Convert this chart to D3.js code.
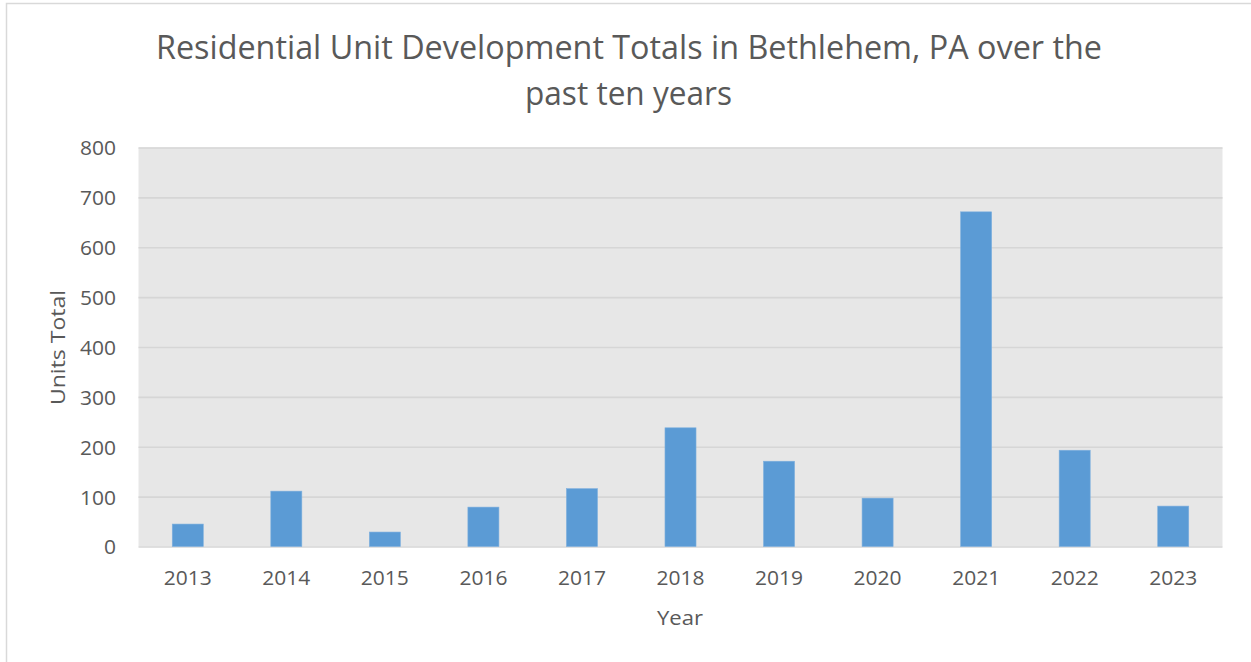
<!DOCTYPE html>
<html>
<head>
<meta charset="utf-8">
<script src="https://cdn.jsdelivr.net/npm/d3@7"></script>
<style>
  html, body { margin: 0; padding: 0; background: #fff; }
  svg { display: block; }
  text { font-family: "Open Sans", "Liberation Sans", sans-serif; fill: #595959; }
</style>
</head>
<body>
<svg id="chart" width="1251" height="662"></svg>
<script>
const years = ["2013","2014","2015","2016","2017","2018","2019","2020","2021","2022","2023"];
const units = [45, 111, 29, 79, 116, 238, 171, 97, 671, 193, 81];
const yTicks = [0, 100, 200, 300, 400, 500, 600, 700, 800];
const titleLines = ["Residential Unit Development Totals in Bethlehem, PA over the", "past ten years"];
const xTitle = "Year";
const yTitle = "Units Total";

const svg = d3.select("#chart");
const W = 1251, H = 662;
const plot = { left: 138.5, right: 1222.5, top: 147.5, bottom: 546.5 };
const tickFont = 20.5;
const titleFont = 33.5;

// squeeze text horizontally to match a narrow (Calibri-like) face
function fitWidth(sel, perChar) {
  sel.each(function () {
    const n = this.textContent.length;
    d3.select(this).attr("textLength", perChar * n).attr("lengthAdjust", "spacingAndGlyphs");
  });
}

// chart border (cropped on right/bottom)
svg.append("rect")
  .attr("x", 6.5).attr("y", 3.5)
  .attr("width", W + 20).attr("height", H + 20)
  .attr("fill", "#fff").attr("stroke", "#d9d9d9").attr("stroke-width", 1.5);

const x = d3.scaleBand().domain(years)
  .range([plot.left, plot.right])
  .paddingInner(0.685).paddingOuter(0.3425);
const y = d3.scaleLinear().domain([0, 800]).range([plot.bottom, plot.top]);

// plot background
svg.append("rect")
  .attr("x", plot.left).attr("y", plot.top)
  .attr("width", plot.right - plot.left).attr("height", plot.bottom - plot.top)
  .attr("fill", "#e7e7e7");

// gridlines
const yAxisGrid = d3.axisLeft(y).tickValues(yTicks).tickSize(-(plot.right - plot.left)).tickFormat("");
const gGrid = svg.append("g").attr("transform", `translate(${plot.left},0)`).call(yAxisGrid);
gGrid.select(".domain").remove();
gGrid.selectAll("line").attr("stroke", "#d6d6d6").attr("stroke-width", 1.6);

// bars
svg.append("g").selectAll("rect").data(years).join("rect")
  .attr("x", d => x(d))
  .attr("width", x.bandwidth())
  .attr("y", (d, i) => y(units[i]))
  .attr("height", (d, i) => y(0) - y(units[i]))
  .attr("fill", "#5b9bd5")
  .attr("stroke", "#7fb0de").attr("stroke-width", 0.6);

// y axis labels
const yAxis = d3.axisLeft(y).tickValues(yTicks).tickSize(0).tickPadding(0).tickFormat(d3.format("d"));
const gY = svg.append("g").attr("transform", `translate(116,0)`).call(yAxis);
gY.select(".domain").remove();
gY.selectAll("text").attr("font-size", tickFont).attr("fill", "#595959")
  .style("font-family", '"Open Sans", sans-serif').attr("dy", "0.36em");
fitWidth(gY.selectAll("text"), 12);

// x axis labels
const xAxis = d3.axisBottom(x).tickSize(0).tickPadding(0);
const gX = svg.append("g").attr("transform", `translate(0,585)`).call(xAxis);
gX.select(".domain").remove();
gX.selectAll("text").attr("font-size", tickFont).attr("fill", "#595959")
  .style("font-family", '"Open Sans", sans-serif').attr("dy", 0);
fitWidth(gX.selectAll("text"), 12);

// title
svg.append("text").attr("x", 629).attr("y", 59).attr("text-anchor", "middle")
  .attr("font-size", titleFont).attr("textLength", 946).attr("lengthAdjust", "spacingAndGlyphs")
  .text(titleLines[0]);
svg.append("text").attr("x", 628.5).attr("y", 105).attr("text-anchor", "middle")
  .attr("font-size", titleFont).attr("textLength", 207).attr("lengthAdjust", "spacingAndGlyphs")
  .text(titleLines[1]);

// axis titles
svg.append("text").attr("x", 680).attr("y", 625).attr("text-anchor", "middle")
  .attr("font-size", tickFont).attr("textLength", 46).attr("lengthAdjust", "spacingAndGlyphs")
  .text(xTitle);
svg.append("text").attr("transform", "translate(65,347.5) rotate(-90)").attr("text-anchor", "middle")
  .attr("font-size", tickFont).attr("textLength", 115).attr("lengthAdjust", "spacingAndGlyphs")
  .text(yTitle);
</script>
</body>
</html>
